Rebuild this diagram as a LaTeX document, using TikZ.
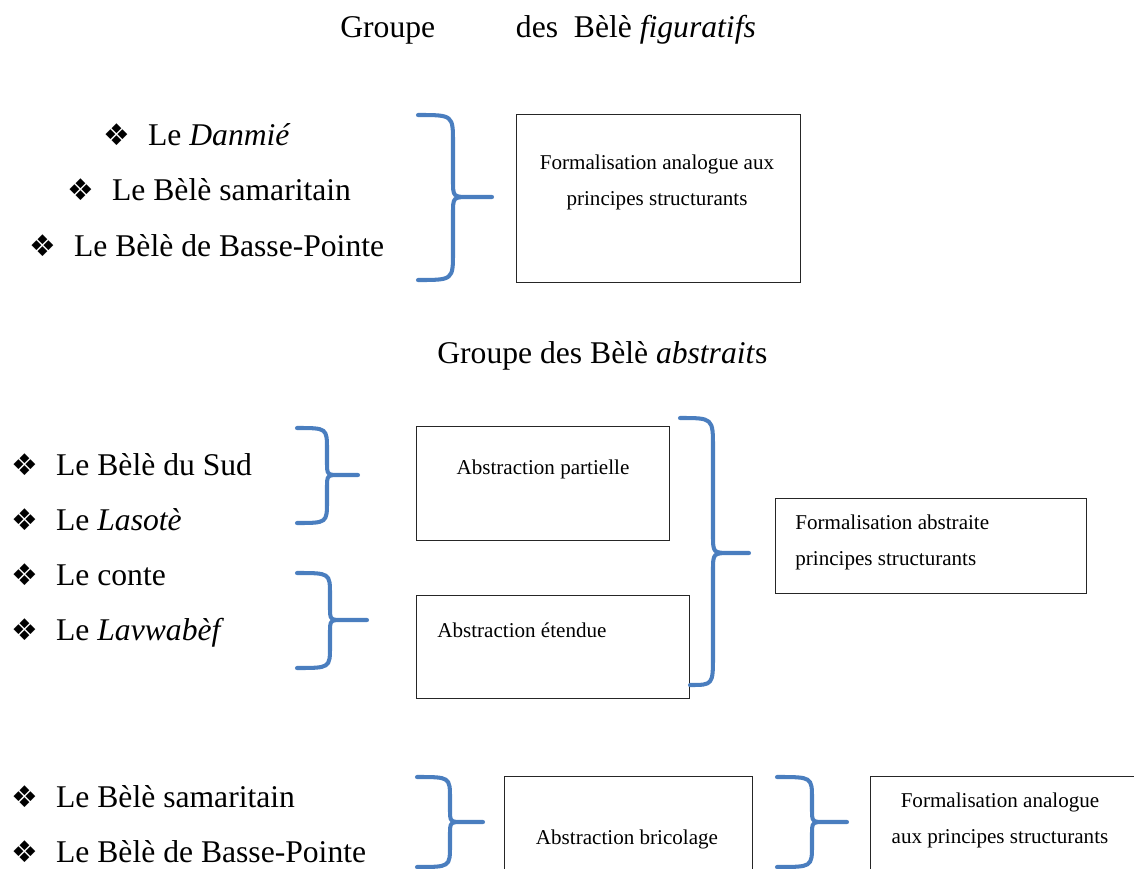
\documentclass[tikz,border=0pt]{standalone}
\usepackage{fontspec}
\setmainfont{Liberation Serif}
\newfontfamily\dingfont{DejaVu Sans}
\definecolor{bracecol}{HTML}{4A7EBF}
\newcommand{\puce}{\makebox[25.5pt][l]{{\dingfont\fontsize{17}{17}\selectfont ❖}}}

\begin{document}
\begin{tikzpicture}[x=0.02cm,y=-0.02cm,
  heading/.style={anchor=base west,inner sep=0pt,font=\fontsize{18}{22}\selectfont},
  listitem/.style={anchor=base west,inner sep=0pt,font=\fontsize{18}{22}\selectfont},
  panel/.style={draw=black!85,line width=.75pt,anchor=north west,inner sep=0pt},
  paneltext/.style={inner sep=0pt,font=\fontsize{12}{20.5}\selectfont},
  bracket/.style={draw=bracecol,line width=2.3pt,line cap=round,line join=round}]
  \useasboundingbox (0,0) rectangle (1134,869);
  \clip (0,0) rectangle (1134,869);

  % Figurative group: three dances, one analogue formalisation.
  \node[heading] (titre1) at (340,37) {Groupe\hspace{46pt}des\hspace{9pt}Bèlè \textit{figuratifs}};
  \node[listitem] (danmie) at (103,145) {\puce Le \textit{Danmié}};
  \node[listitem] (sama1) at (67,200) {\puce Le Bèlè samaritain};
  \node[listitem] (basse1) at (29,256) {\puce Le Bèlè de Basse-Pointe};
  \node[panel,minimum width=5.68cm,minimum height=3.36cm] (analog1) at (516,114) {};
  \node[paneltext,align=center] (analog1txt) at (657,182) {Formalisation analogue aux\\principes structurants};

  % Abstract group.
  \node[heading] (titre2) at (437,363) {Groupe des Bèlè \textit{abstrait}s};
  \node[listitem] (sud) at (11,475) {\puce Le Bèlè du Sud};
  \node[listitem] (lasote) at (11,530) {\puce Le \textit{Lasotè}};
  \node[listitem] (conte) at (11,585) {\puce Le conte};
  \node[listitem] (lavwabef) at (11,640) {\puce Le \textit{Lavwabèf}};
  \node[panel,minimum width=5.06cm,minimum height=2.28cm] (partielle) at (416,426) {};
  \node[paneltext,anchor=base] (partielletxt) at (543,474) {Abstraction partielle};
  \node[panel,minimum width=5.46cm,minimum height=2.06cm] (etendue) at (416,595) {};
  \node[paneltext,anchor=base west] (etenduetxt) at (437,637) {Abstraction étendue};
  \node[panel,minimum width=6.22cm,minimum height=1.90cm] (abstraite) at (775,498) {};
  \node[paneltext,anchor=west,align=left] (abstraitetxt) at (795,542) {Formalisation abstraite\\principes structurants};

  % Bricolage row (runs off the page).
  \node[listitem] (sama2) at (11,807) {\puce Le Bèlè samaritain};
  \node[listitem] (basse2) at (11,862) {\puce Le Bèlè de Basse-Pointe};
  \node[panel,minimum width=4.96cm,minimum height=2.5cm] (bricolage) at (504,776) {};
  \node[paneltext,anchor=base] (bricolagetxt) at (627,844) {Abstraction bricolage};
  \node[panel,minimum width=6cm,minimum height=2.5cm] (analog2) at (870,776) {};
  \node[paneltext,align=center] (analog2txt) at (1000,820) {Formalisation analogue\\aux principes structurants};

  % Curly brackets: end x (top/bottom), shaft x, tip x, top/tip/bottom y, end radius.
  \foreach \xa/\xb/\xs/\xt/\yt/\ym/\yb/\r in {418/418/453/492/115/197/280/28,
      297/297/327/358/428/475/523/22, 297/297/330/367/573/620/668/22,
      680/690/713/749/418/553/685/30, 417/417/450/483/777/822/867/22,
      777/777/812/847/777/822/867/22}
    \draw[bracket] (\xa,\yt) .. controls (\xs,\yt) .. (\xs,\yt+\r)
      -- (\xs,\ym-0.6*\r) .. controls (\xs,\ym) .. (\xs+0.6*\r,\ym) -- (\xt,\ym)
      -- (\xs+0.6*\r,\ym) .. controls (\xs,\ym) .. (\xs,\ym+0.6*\r)
      -- (\xs,\yb-\r) .. controls (\xs,\yb) .. (\xb,\yb);
\end{tikzpicture}
\end{document}
